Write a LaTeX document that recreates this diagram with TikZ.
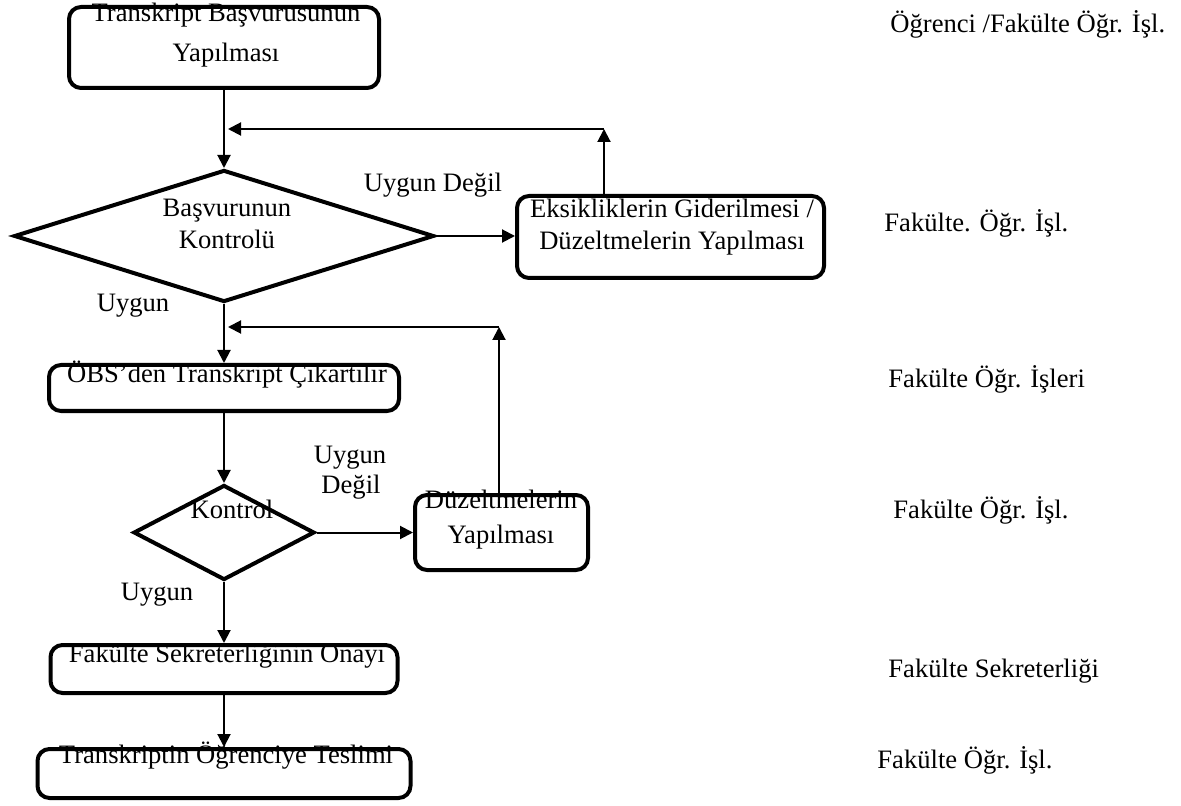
\documentclass[tikz,border=0pt]{standalone}
\usepackage{fontspec}
\setmainfont{Liberation Serif}
\usetikzlibrary{shapes.geometric,arrows.meta}
\tikzset{
	adim/.style={draw, rounded corners=6pt, line width=2pt, inner sep=0pt},
	karar/.style={draw, diamond, line width=2pt, inner sep=0pt},
	yazi/.style={anchor=base, inner sep=0pt},
	birim/.style={anchor=base west, inner sep=0pt},
	ok/.style={->, line width=1pt}
}
\begin{document}
\begin{tikzpicture}[>={Triangle[length=6.5pt,width=6.5pt]}, x=0.5pt, y=-0.5pt, font=\fontsize{13.3}{16}\selectfont]
		\useasboundingbox (0,0) rectangle (1181,806);
		\node[yazi] (t1a) at (226,22) {Transkript Başvurusunun};
		\node[yazi] (t1b) at (226,62) {Yapılması};
		\node[yazi] (t2a) at (227,217) {Başvurunun};
		\node[yazi] (t2b) at (227,249) {Kontrolü};
		\node[yazi] (t3a) at (672,218) {Eksikliklerin Giderilmesi /};
		\node[yazi] (t3b) at (672,250) {Düzeltmelerin Yapılması};
		\node[yazi] (t4) at (227,383) {ÖBS’den Transkript Çıkartılır};
		\node[yazi] (t5) at (232,518) {Kontrol};
		\node[yazi] (t6a) at (501,508) {Düzeltmelerin};
		\node[yazi] (t6b) at (501,543) {Yapılması};
		\node[yazi] (t7) at (227,662) {Fakülte Sekreterliğinin Onayı};
		\node[yazi] (t8) at (226,763) {Transkriptin Öğrenciye Teslimi};
		\node[yazi] (u1) at (433,192) {Uygun Değil};
		\node[yazi] (u2) at (133,312) {Uygun};
		\node[yazi] (u3a) at (350,463) {Uygun};
		\node[yazi] (u3b) at (351,493) {Değil};
		\node[yazi] (u4) at (157,600) {Uygun};
		\node[birim] (r1) at (890,33) {Öğrenci /Fakülte Öğr. İşl.};
		\node[birim] (r2) at (884,232) {Fakülte. Öğr. İşl.};
		\node[birim] (r3) at (888,387) {Fakülte Öğr. İşleri};
		\node[birim] (r4) at (893,518) {Fakülte Öğr. İşl.};
		\node[birim] (r5) at (888,677) {Fakülte Sekreterliği};
		\node[birim] (r6) at (877,768) {Fakülte Öğr. İşl.};
		\node[adim, minimum width=155pt, minimum height=40.5pt] (b1) at (224,47.5) {};
		\node[karar, minimum width=210pt, minimum height=66pt] (d1) at (224,236) {};
		\node[adim, minimum width=153.5pt, minimum height=41pt] (b2) at (670.5,237) {};
		\node[adim, minimum width=175pt, minimum height=23pt] (b3) at (224,388) {};
		\node[karar, minimum width=90.5pt, minimum height=47.5pt] (d2) at (224,532.5) {};
		\node[adim, minimum width=86.5pt, minimum height=37.5pt] (b4) at (501.5,532.5) {};
		\node[adim, minimum width=173.5pt, minimum height=24pt] (b5) at (224,669) {};
		\node[adim, minimum width=186.5pt, minimum height=24.5pt] (b6) at (224,773.5) {};
		\coordinate (k1) at (604,129);
		\coordinate (k2) at (499,327);
		\draw[ok] (b1) -- (d1);
		\draw[ok] (d1.east) -- (d1.east -| b2.west);
		\draw[ok] (b2.north -| k1) -- (k1);
		\draw[ok, shorten >=2pt] (k1) -- (k1 -| b1.south);
		\draw[ok] (d1) -- (b3);
		\draw[ok] (b3) -- (d2);
		\draw[ok] (d2.east) -- (d2.east -| b4.west);
		\draw[ok] (b4.north -| k2) -- (k2);
		\draw[ok, shorten >=2pt] (k2) -- (k2 -| b1.south);
		\draw[ok] (d2) -- (b5);
		\draw[ok] (b5) -- (b6);
		\end{tikzpicture}
\end{document}
